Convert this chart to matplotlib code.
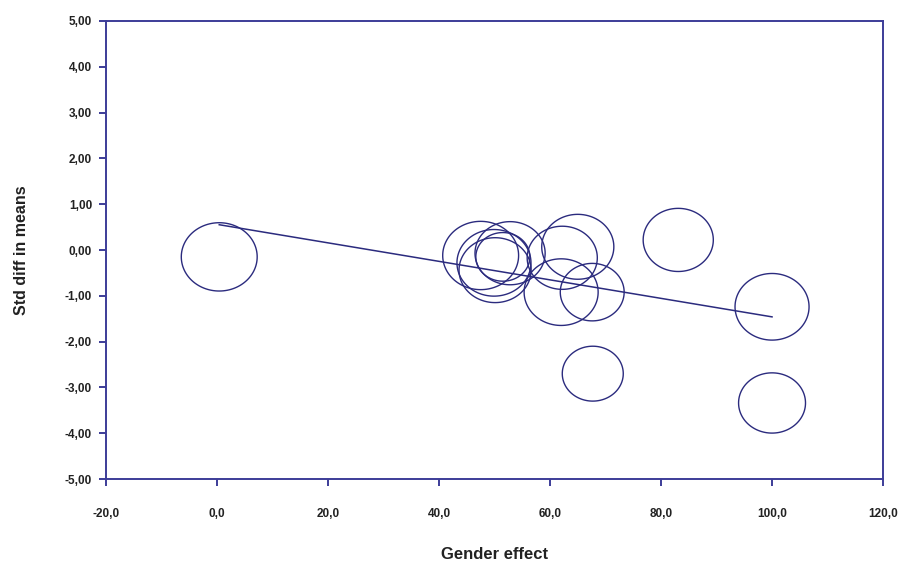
import numpy as np
import matplotlib
matplotlib.use("Agg")
import matplotlib.pyplot as plt
from matplotlib.path import Path
from matplotlib.ticker import FuncFormatter, FixedLocator

# ---- data ----
gender_effect = [0.4, 47.5, 52.8, 49.9, 50.1, 51.5, 65.0, 62.2, 62.0, 67.6, 67.7, 83.1, 100.0, 100.0]
std_diff = [-0.15, -0.12, -0.07, -0.28, -0.44, -0.15, 0.07, -0.17, -0.92, -0.92, -2.70, 0.22, -1.24, -3.34]
study_weight = [14.4, 14.4, 12.3, 13.7, 13.0, 7.3, 13.0, 12.3, 13.7, 10.2, 9.3, 12.3, 13.7, 11.2]
reg_intercept = 0.56
reg_slope = -0.0202
x_ticks = [-20, 0, 20, 40, 60, 80, 100, 120]
y_ticks = [-5, -4, -3, -2, -1, 0, 1, 2, 3, 4, 5]

navy = "#2b2b7e"
spine_col = "#3c3c98"

plt.rcParams['font.family'] = ['Liberation Sans', 'DejaVu Sans']

fig = plt.figure(figsize=(9.03, 5.63), dpi=100)
ax = fig.add_axes([0.1174, 0.1492, 0.8605, 0.8135])

# slightly elliptical circle marker
t = np.linspace(0, 2 * np.pi, 121)
verts = np.column_stack([np.cos(t), 0.9 * np.sin(t)])
ell = Path(verts, closed=True)

sizes = [w * 207.36 for w in study_weight]
ax.scatter(gender_effect, std_diff, s=sizes, marker=ell, facecolors='none',
           edgecolors=navy, linewidths=1.0, zorder=3)

xr = np.array([min(gender_effect), max(gender_effect)])
ax.plot(xr, reg_intercept + reg_slope * xr, color=navy, lw=1.1, zorder=4)

ax.set_xlim(-20, 120)
ax.set_ylim(-5, 5)
ax.xaxis.set_major_locator(FixedLocator(x_ticks))
ax.yaxis.set_major_locator(FixedLocator(y_ticks))
ax.xaxis.set_major_formatter(FuncFormatter(lambda v, p: f"{v:.1f}".replace('.', ',')))
ax.yaxis.set_major_formatter(FuncFormatter(lambda v, p: f"{v:.2f}".replace('.', ',')))

for sp in ax.spines.values():
    sp.set_color(spine_col)
    sp.set_linewidth(1.4)

ax.tick_params(axis='both', direction='out', length=5, width=1.4, color=spine_col,
               labelsize=8.5, labelcolor='#222222')
ax.tick_params(axis='x', pad=16)
ax.tick_params(axis='y', pad=5)
for lab in ax.get_xticklabels() + ax.get_yticklabels():
    lab.set_fontweight('bold')

ax.set_xlabel("Gender effect", fontsize=12, fontweight='bold', color='#222222', labelpad=19)
ax.set_ylabel("Std diff in means", fontsize=11.5, fontweight='bold', color='#222222', labelpad=26)

fig.savefig("out.png", dpi=100, facecolor='white')
